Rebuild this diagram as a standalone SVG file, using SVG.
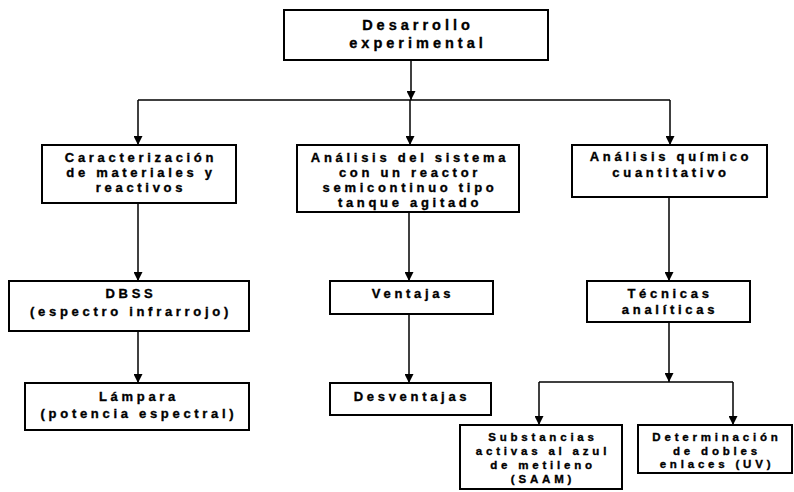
<svg xmlns="http://www.w3.org/2000/svg" width="794" height="492" viewBox="0 0 794 492">
<defs>
<marker id="ah" viewBox="0 0 10 10" refX="10" refY="5" markerWidth="9" markerHeight="9" markerUnits="userSpaceOnUse" orient="auto">
<path d="M0,0 L10,5 L0,10 z" fill="#000"/>
</marker>
<style>
.box{fill:#fff;stroke:#000;stroke-width:2}
.t{font-family:"Liberation Sans",Arial,sans-serif;font-weight:bold;font-size:13px;letter-spacing:3.7px;text-anchor:middle;fill:#000;stroke:#000;stroke-width:0.35}
.tl{font-size:14.5px;letter-spacing:4px}
.ts{font-size:11.5px;letter-spacing:3.8px}
.c{fill:none;stroke:#000;stroke-width:1.5}
</style>
</defs>
<rect width="794" height="492" fill="#fff"/>
<g id="connectors">
<path class="c" d="M411,60 V100" marker-end="url(#ah)"/>
<path class="c" d="M138,100 H670"/>
<path class="c" d="M138,100 V145" marker-end="url(#ah)"/>
<path class="c" d="M410,100 V145" marker-end="url(#ah)"/>
<path class="c" d="M670,100 V145" marker-end="url(#ah)"/>
<path class="c" d="M138,203 V281" marker-end="url(#ah)"/>
<path class="c" d="M138,331 V383" marker-end="url(#ah)"/>
<path class="c" d="M409,212 V281" marker-end="url(#ah)"/>
<path class="c" d="M409,314 V383" marker-end="url(#ah)"/>
<path class="c" d="M669,197 V281" marker-end="url(#ah)"/>
<path class="c" d="M669,322 V382" marker-end="url(#ah)"/>
<path class="c" d="M539,382 H733"/>
<path class="c" d="M539,382 V425" marker-end="url(#ah)"/>
<path class="c" d="M733,382 V425" marker-end="url(#ah)"/>
</g>
<g id="n-desarrollo">
<rect class="box" x="284" y="10" width="264" height="50"/>
<text class="t tl" x="418" y="30">Desarrollo</text>
<text class="t tl" x="418" y="48">experimental</text>
</g>
<g id="n-caracterizacion">
<rect class="box" x="42" y="145" width="194" height="58"/>
<text class="t" x="141" y="162">Caracterización</text>
<text class="t" x="141" y="177">de materiales y</text>
<text class="t" x="141" y="192">reactivos</text>
</g>
<g id="n-analisis-sistema">
<rect class="box" x="297" y="145" width="222" height="67"/>
<text class="t" x="410" y="162">Análisis del sistema</text>
<text class="t" x="410" y="177">con un reactor</text>
<text class="t" x="410" y="192">semicontinuo tipo</text>
<text class="t" x="410" y="207">tanque agitado</text>
</g>
<g id="n-analisis-quimico">
<rect class="box" x="572" y="145" width="195" height="52"/>
<text class="t" x="671" y="161">Análisis químico</text>
<text class="t" x="671" y="177">cuantitativo</text>
</g>
<g id="n-dbss">
<rect class="box" x="9" y="281" width="240" height="50"/>
<text class="t" x="131" y="298">DBSS</text>
<text class="t" x="131" y="316">(espectro infrarrojo)</text>
</g>
<g id="n-lampara">
<rect class="box" x="25" y="383" width="224" height="47"/>
<text class="t" x="139" y="401">Lámpara</text>
<text class="t" x="139" y="418">(potencia espectral)</text>
</g>
<g id="n-ventajas">
<rect class="box" x="330" y="281" width="163" height="33"/>
<text class="t" x="413" y="298">Ventajas</text>
</g>
<g id="n-desventajas">
<rect class="box" x="330" y="383" width="161" height="32"/>
<text class="t" x="412" y="401">Desventajas</text>
</g>
<g id="n-tecnicas">
<rect class="box" x="587" y="281" width="163" height="41"/>
<text class="t" x="670" y="298">Técnicas</text>
<text class="t" x="670" y="314">analíticas</text>
</g>
<g id="n-saam">
<rect class="box" x="460" y="425" width="162" height="64"/>
<text class="ts t" x="543" y="441">Substancias</text>
<text class="ts t" x="543" y="455">activas al azul</text>
<text class="ts t" x="543" y="469">de metileno</text>
<text class="ts t" x="543" y="483">(SAAM)</text>
</g>
<g id="n-uv">
<rect class="box" x="638" y="425" width="154" height="48"/>
<text class="ts t" x="717" y="441">Determinación</text>
<text class="ts t" x="717" y="455">de dobles</text>
<text class="ts t" x="717" y="468">enlaces (UV)</text>
</g>
</svg>
